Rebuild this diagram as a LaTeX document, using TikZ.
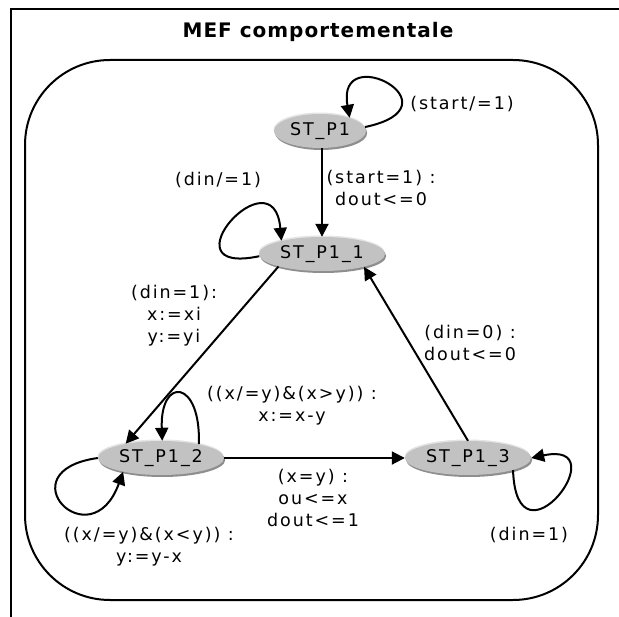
\documentclass[tikz,border=0pt]{standalone}
\usepackage{fontspec}
\setmainfont{DejaVu Sans}
\newfontfamily\lblfont[LetterSpace=11]{DejaVu Sans}
\newfontfamily\titlefont[LetterSpace=5]{DejaVu Sans}
\usetikzlibrary{arrows.meta,shapes.geometric,shadows}
\definecolor{statefill}{HTML}{C2C2C2}
\definecolor{staterim}{HTML}{E4E4E4}
\definecolor{stateshade}{HTML}{8E8E8E}
\begin{document}
\begin{tikzpicture}[x=1pt,y=-1pt,
  txt/.style={font=\lblfont\fontsize{17.5}{22}\selectfont},
  state/.style={txt, ellipse, minimum width=126pt, minimum height=34pt, inner sep=0pt,
    fill=statefill,
    general shadow={fill=staterim, shadow yshift=1.5pt, shadow xshift=-0.5pt},
    general shadow={fill=stateshade, shadow yshift=-2pt, shadow xshift=1.2pt}},
  lbl/.style={txt, align=center, inner sep=0pt},
  conn/.style={line width=2pt, -{Triangle[length=13pt,width=13pt]}},
  frameline/.style={line width=2pt}
]
\useasboundingbox (0,0) rectangle (619,617);

% outer frame (top and left edges only)
\draw[frameline] (619,9.5) -- (10.5,9.5) -- (10.5,617);
\node[font=\titlefont\bfseries\fontsize{20}{22}\selectfont] (title) at (318,32) {MEF comportementale};

% state machine container
\draw[frameline, rounded corners=85pt] (25,60) rectangle (598,600);

% states
\node[state, minimum width=92pt] (p1) at (320,131) {ST\_P1};
\node[state] (p11) at (322,254) {ST\_P1\_1};
\node[state] (p12) at (161,458) {ST\_P1\_2};
\node[state] (p13) at (468,458) {ST\_P1\_3};

% transitions
\draw[conn] (p1.5) to[out=12, in=100, out distance=100pt, in distance=80pt] (p1.24);
\draw[conn] (p1.south -| p11.north) -- (p11.north);
\draw[conn] (p11.182) to[out=192, in=95, out distance=100pt, in distance=90pt] (p11.162);
\draw[conn] (p11.196) -- (p12.158);
\draw[conn] (p13.north) -- (p11.343);
\draw[conn] (p12.east) -- (p13.west);
\draw[conn] (p12.20) to[out=88, in=92, out distance=65pt, in distance=65pt] (p12.86);
\draw[conn] (p12.west) to[out=188, in=250, out distance=95pt, in distance=95pt] (p12.200);
\draw[conn] (p13.345) to[out=272, in=12, out distance=105pt, in distance=90pt] (p13.east);

% transition labels
\node[lbl] (l1) at (462,104) {(start/=1)};
\node[lbl] (l2) at (381,188) {(start=1) :\\dout<=0};
\node[lbl] (l3) at (218,180) {(din/=1)};
\node[lbl] (l4) at (174,316) {(din=1):\\x:=xi\\y:=yi};
\node[lbl] (l5) at (470,343) {(din=0) :\\dout<=0};
\node[lbl] (l6) at (292,406) {((x/=y)\&(x>y)) :\\x:=x-y};
\node[lbl] (l7) at (313,498) {(x=y) :\\ou<=x\\dout<=1};
\node[lbl] (l8) at (149,547) {((x/=y)\&(x<y)) :\\y:=y-x};
\node[lbl] (l9) at (529,535) {(din=1)};
\end{tikzpicture}
\end{document}
